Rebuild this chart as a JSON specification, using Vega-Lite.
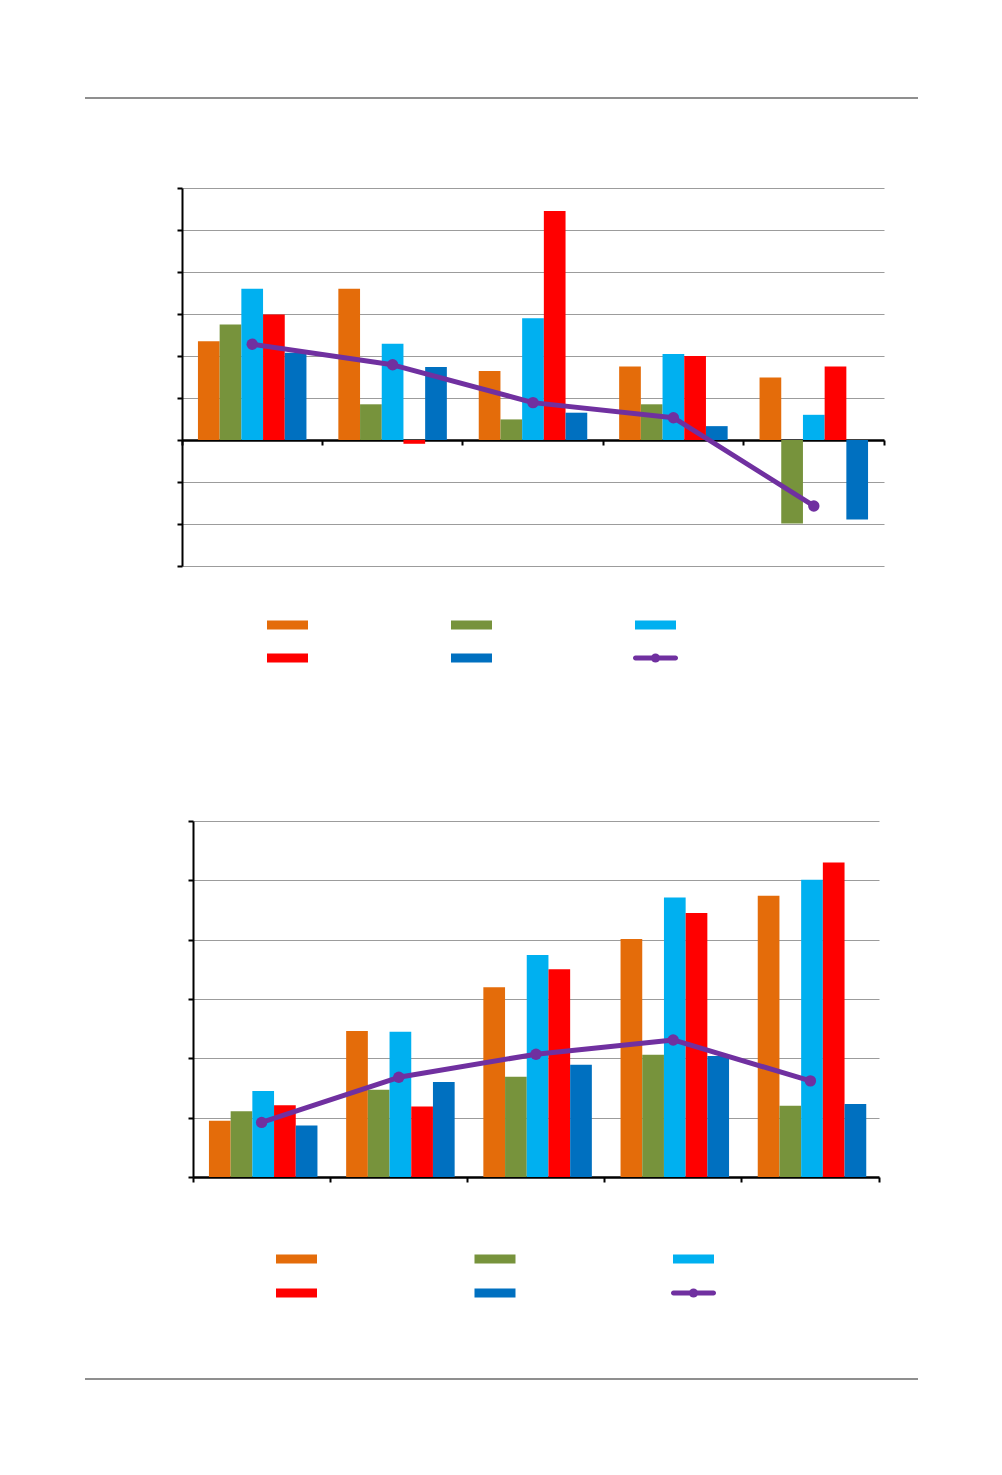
{
  "$schema": "https://vega.github.io/schema/vega-lite/v6.json",
  "description": "Two grouped bar charts with an average line, no text labels, page rules above and below.",
  "padding": {"left": 0, "top": 97, "right": 0, "bottom": 0},
  "spacing": 0,
  "config": {"view": {"stroke": null}},
  "vconcat": [
    {
      "spacing": 84,
      "bounds": "flush",
      "hconcat": [
        {"width": 1, "height": 1, "data": {"values": [{}]}, "mark": {"type": "point", "opacity": 0, "size": 0}},
        {
          "width": 833,
          "height": 89,
          "data": {"values": [{}]},
          "mark": {"type": "rule", "color": "#6a6a6a", "strokeWidth": 1.4},
          "encoding": {"y": {"datum": 1, "type": "quantitative", "scale": {"domain": [0, 1]}, "axis": null}}
        }
      ]
    },
    {
      "spacing": 181,
      "bounds": "flush",
      "hconcat": [
        {"width": 1, "height": 1, "data": {"values": [{}]}, "mark": {"type": "point", "opacity": 0, "size": 0}},
        {
          "width": 702,
          "height": 378,
          "data": {
            "values": [
              {"group": "G1", "series": "S1", "value": 2.35},
              {"group": "G1", "series": "S2", "value": 2.75},
              {"group": "G1", "series": "S3", "value": 3.6},
              {"group": "G1", "series": "S4", "value": 2.99},
              {"group": "G1", "series": "S5", "value": 2.08},
              {"group": "G1", "series": "Avg", "value": 2.28},
              {"group": "G2", "series": "S1", "value": 3.6},
              {"group": "G2", "series": "S2", "value": 0.85},
              {"group": "G2", "series": "S3", "value": 2.29},
              {"group": "G2", "series": "S4", "value": -0.09},
              {"group": "G2", "series": "S5", "value": 1.74},
              {"group": "G2", "series": "Avg", "value": 1.79},
              {"group": "G3", "series": "S1", "value": 1.64},
              {"group": "G3", "series": "S2", "value": 0.49},
              {"group": "G3", "series": "S3", "value": 2.9},
              {"group": "G3", "series": "S4", "value": 5.45},
              {"group": "G3", "series": "S5", "value": 0.65},
              {"group": "G3", "series": "Avg", "value": 0.89},
              {"group": "G4", "series": "S1", "value": 1.75},
              {"group": "G4", "series": "S2", "value": 0.85},
              {"group": "G4", "series": "S3", "value": 2.05},
              {"group": "G4", "series": "S4", "value": 2.0},
              {"group": "G4", "series": "S5", "value": 0.33},
              {"group": "G4", "series": "Avg", "value": 0.53},
              {"group": "G5", "series": "S1", "value": 1.49},
              {"group": "G5", "series": "S2", "value": -1.99},
              {"group": "G5", "series": "S3", "value": 0.6},
              {"group": "G5", "series": "S4", "value": 1.75},
              {"group": "G5", "series": "S5", "value": -1.89},
              {"group": "G5", "series": "Avg", "value": -1.57}
            ]
          },
          "encoding": {
            "x": {
              "field": "group",
              "type": "nominal",
              "scale": {"paddingInner": 0, "paddingOuter": 0},
              "axis": {
                "labels": false,
                "title": null,
                "bandPosition": 1,
                "tickExtra": true,
                "offset": -126,
                "domainColor": "#000000",
                "domainWidth": 2.5,
                "tickColor": "#000000",
                "tickWidth": 2,
                "tickSize": 5
              }
            },
            "y": {
              "field": "value",
              "type": "quantitative",
              "scale": {"domain": [-3, 6], "nice": false, "zero": false},
              "axis": {
                "labels": false,
                "title": null,
                "values": [-3, -2, -1, 0, 1, 2, 3, 4, 5, 6],
                "grid": true,
                "gridColor": "#9c9c9c",
                "gridWidth": 1,
                "domainColor": "#000000",
                "domainWidth": 2,
                "tickColor": "#000000",
                "tickWidth": 2,
                "tickSize": 5
              }
            }
          },
          "layer": [
            {
              "transform": [{"filter": "datum.series != 'Avg'"}],
              "mark": {"type": "bar", "opacity": 1},
              "encoding": {
                "xOffset": {"field": "series", "type": "nominal", "scale": {"paddingInner": 0, "paddingOuter": 0.735}},
                "color": {
                  "field": "series",
                  "type": "nominal",
                  "scale": {"domain": ["S1", "S2", "S3", "S4", "S5"], "range": ["#E46C0A", "#77933C", "#00B0F0", "#FF0000", "#0070C0"]},
                  "legend": null
                }
              }
            },
            {
              "transform": [{"filter": "datum.series == 'Avg'"}],
              "mark": {"type": "line", "color": "#7030A0", "strokeWidth": 5, "strokeCap": "round", "strokeJoin": "round"}
            },
            {
              "transform": [{"filter": "datum.series == 'Avg'"}],
              "mark": {"type": "point", "filled": true, "color": "#7030A0", "size": 130, "opacity": 1}
            }
          ]
        }
      ]
    },
    {
      "width": 1002,
      "height": 253,
      "data": {
        "values": [
          {"series": "S1", "col": 0, "row": 0},
          {"series": "S2", "col": 1, "row": 0},
          {"series": "S3", "col": 2, "row": 0},
          {"series": "S4", "col": 0, "row": 1},
          {"series": "S5", "col": 1, "row": 1},
          {"series": "Avg", "col": 2, "row": 1}
        ]
      },
      "encoding": {
        "x": {"field": "col", "type": "quantitative", "scale": {"domain": [-1.5625, 3.8832], "nice": false, "zero": false}, "axis": null},
        "y": {"field": "row", "type": "quantitative", "scale": {"domain": [-1.7576, 5.9091], "nice": false, "zero": false, "reverse": true}, "axis": null}
      },
      "layer": [
        {
          "transform": [{"filter": "datum.series != 'Avg'"}],
          "mark": {"type": "tick", "orient": "horizontal", "size": 41, "thickness": 9, "opacity": 1},
          "encoding": {
            "color": {
              "field": "series",
              "type": "nominal",
              "scale": {"domain": ["S1", "S2", "S3", "S4", "S5"], "range": ["#E46C0A", "#77933C", "#00B0F0", "#FF0000", "#0070C0"]},
              "legend": null
            }
          }
        },
        {
          "transform": [{"filter": "datum.series == 'Avg'"}],
          "mark": {"type": "tick", "orient": "horizontal", "size": 45, "thickness": 5, "cornerRadius": 2.5, "color": "#7030A0", "opacity": 1}
        },
        {
          "transform": [{"filter": "datum.series == 'Avg'"}],
          "mark": {"type": "point", "filled": true, "size": 80, "color": "#7030A0", "opacity": 1}
        }
      ]
    },
    {
      "spacing": 192,
      "bounds": "flush",
      "hconcat": [
        {"width": 1, "height": 1, "data": {"values": [{}]}, "mark": {"type": "point", "opacity": 0, "size": 0}},
        {
          "width": 686,
          "height": 356,
          "data": {
            "values": [
              {"group": "G1", "series": "S1", "value": 0.95},
              {"group": "G1", "series": "S2", "value": 1.11},
              {"group": "G1", "series": "S3", "value": 1.45},
              {"group": "G1", "series": "S4", "value": 1.21},
              {"group": "G1", "series": "S5", "value": 0.87},
              {"group": "G1", "series": "Avg", "value": 0.92},
              {"group": "G2", "series": "S1", "value": 2.46},
              {"group": "G2", "series": "S2", "value": 1.47},
              {"group": "G2", "series": "S3", "value": 2.45},
              {"group": "G2", "series": "S4", "value": 1.19},
              {"group": "G2", "series": "S5", "value": 1.6},
              {"group": "G2", "series": "Avg", "value": 1.68},
              {"group": "G3", "series": "S1", "value": 3.2},
              {"group": "G3", "series": "S2", "value": 1.69},
              {"group": "G3", "series": "S3", "value": 3.74},
              {"group": "G3", "series": "S4", "value": 3.5},
              {"group": "G3", "series": "S5", "value": 1.89},
              {"group": "G3", "series": "Avg", "value": 2.07},
              {"group": "G4", "series": "S1", "value": 4.01},
              {"group": "G4", "series": "S2", "value": 2.06},
              {"group": "G4", "series": "S3", "value": 4.71},
              {"group": "G4", "series": "S4", "value": 4.45},
              {"group": "G4", "series": "S5", "value": 2.04},
              {"group": "G4", "series": "Avg", "value": 2.31},
              {"group": "G5", "series": "S1", "value": 4.74},
              {"group": "G5", "series": "S2", "value": 1.2},
              {"group": "G5", "series": "S3", "value": 5.01},
              {"group": "G5", "series": "S4", "value": 5.3},
              {"group": "G5", "series": "S5", "value": 1.23},
              {"group": "G5", "series": "Avg", "value": 1.62}
            ]
          },
          "encoding": {
            "x": {
              "field": "group",
              "type": "nominal",
              "scale": {"paddingInner": 0, "paddingOuter": 0},
              "axis": {
                "labels": false,
                "title": null,
                "bandPosition": 1,
                "tickExtra": true,
                "domainColor": "#000000",
                "domainWidth": 2.5,
                "tickColor": "#000000",
                "tickWidth": 2,
                "tickSize": 5
              }
            },
            "y": {
              "field": "value",
              "type": "quantitative",
              "scale": {"domain": [0, 6], "nice": false},
              "axis": {
                "labels": false,
                "title": null,
                "values": [0, 1, 2, 3, 4, 5, 6],
                "grid": true,
                "gridColor": "#9c9c9c",
                "gridWidth": 1,
                "domainColor": "#000000",
                "domainWidth": 2,
                "tickColor": "#000000",
                "tickWidth": 2,
                "tickSize": 5
              }
            }
          },
          "layer": [
            {
              "transform": [{"filter": "datum.series != 'Avg'"}],
              "mark": {"type": "bar", "opacity": 1},
              "encoding": {
                "xOffset": {"field": "series", "type": "nominal", "scale": {"paddingInner": 0, "paddingOuter": 0.705}},
                "color": {
                  "field": "series",
                  "type": "nominal",
                  "scale": {"domain": ["S1", "S2", "S3", "S4", "S5"], "range": ["#E46C0A", "#77933C", "#00B0F0", "#FF0000", "#0070C0"]},
                  "legend": null
                }
              }
            },
            {
              "transform": [{"filter": "datum.series == 'Avg'"}],
              "mark": {"type": "line", "color": "#7030A0", "strokeWidth": 5, "strokeCap": "round", "strokeJoin": "round"}
            },
            {
              "transform": [{"filter": "datum.series == 'Avg'"}],
              "mark": {"type": "point", "filled": true, "color": "#7030A0", "size": 130, "opacity": 1}
            }
          ]
        }
      ]
    },
    {
      "width": 1002,
      "height": 195,
      "data": {
        "values": [
          {"series": "S1", "col": 0, "row": 0},
          {"series": "S2", "col": 1, "row": 0},
          {"series": "S3", "col": 2, "row": 0},
          {"series": "S4", "col": 0, "row": 1},
          {"series": "S5", "col": 1, "row": 1},
          {"series": "Avg", "col": 2, "row": 1}
        ]
      },
      "encoding": {
        "x": {"field": "col", "type": "quantitative", "scale": {"domain": [-1.4937, 3.5542], "nice": false, "zero": false}, "axis": null},
        "y": {"field": "row", "type": "quantitative", "scale": {"domain": [-2.2353, 3.5], "nice": false, "zero": false, "reverse": true}, "axis": null}
      },
      "layer": [
        {
          "transform": [{"filter": "datum.series != 'Avg'"}],
          "mark": {"type": "tick", "orient": "horizontal", "size": 41, "thickness": 9, "opacity": 1},
          "encoding": {
            "color": {
              "field": "series",
              "type": "nominal",
              "scale": {"domain": ["S1", "S2", "S3", "S4", "S5"], "range": ["#E46C0A", "#77933C", "#00B0F0", "#FF0000", "#0070C0"]},
              "legend": null
            }
          }
        },
        {
          "transform": [{"filter": "datum.series == 'Avg'"}],
          "mark": {"type": "tick", "orient": "horizontal", "size": 45, "thickness": 5, "cornerRadius": 2.5, "color": "#7030A0", "opacity": 1}
        },
        {
          "transform": [{"filter": "datum.series == 'Avg'"}],
          "mark": {"type": "point", "filled": true, "size": 80, "color": "#7030A0", "opacity": 1}
        }
      ]
    },
    {
      "spacing": 84,
      "bounds": "flush",
      "hconcat": [
        {"width": 1, "height": 1, "data": {"values": [{}]}, "mark": {"type": "point", "opacity": 0, "size": 0}},
        {
          "width": 833,
          "height": 10,
          "data": {"values": [{}]},
          "mark": {"type": "rule", "color": "#6a6a6a", "strokeWidth": 1.4},
          "encoding": {"y": {"datum": 1, "type": "quantitative", "scale": {"domain": [0, 1]}, "axis": null}}
        }
      ]
    }
  ]
}
